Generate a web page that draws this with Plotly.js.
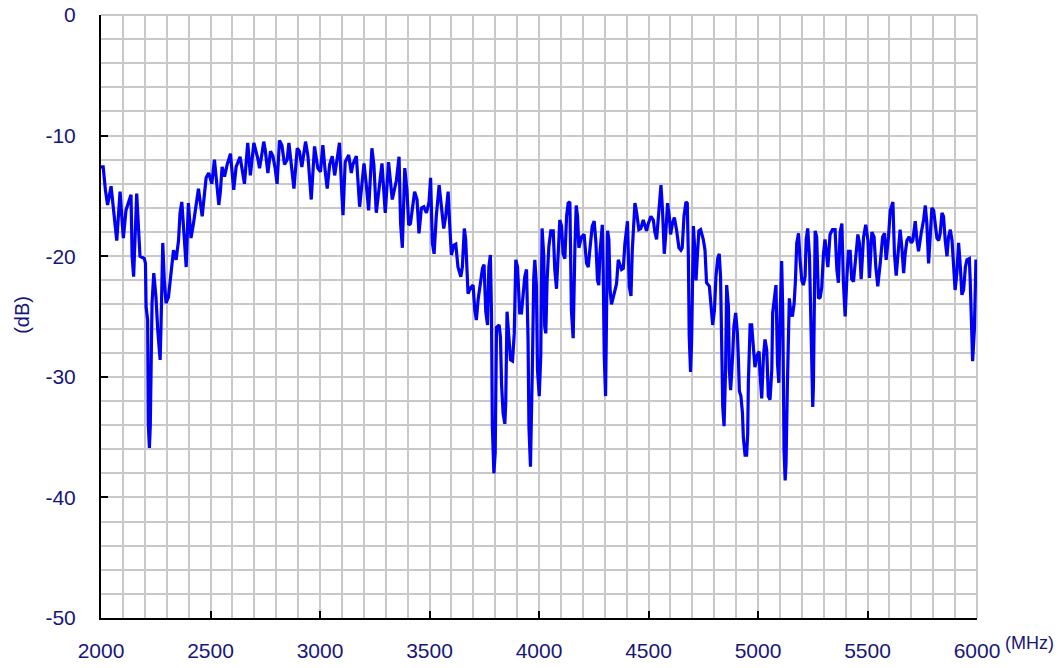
<!DOCTYPE html>
<html>
<head>
<meta charset="utf-8">
<script src="https://cdn.plot.ly/plotly-3.0.1.min.js"></script>
<style>html,body{margin:0;padding:0;background:#fff;}#chart{width:1058px;height:668px;}</style>
</head>
<body>
<div id="chart"></div>
<script>
// Frequency (MHz) and level (dB), band by band
const freqA = [2000,2010,2020,2030,2046,2061,2072,2087,2102,2114,2126,2137,2142,2149,2163,2172,2178,2198,2203,2206,2213,2216,2221,2225,2228,2233,2241,2251,2259,2270,2274,2279,2282,2289,2297,2308,2320,2331,2343,2354,2361,2369,2381,2389,2399,2411,2422,2434,2445,2462,2472,2480,2492,2506,2518,2529,2538,2545,2553,2564,2576,2591,2606,2617,2635,2655];
const dbA   = [-12.6,-12.6,-14.5,-15.75,-14.2,-17.0,-18.7,-14.65,-18.5,-16.2,-15.5,-14.9,-20.0,-21.7,-14.8,-18.4,-20.0,-20.2,-20.6,-24.2,-25.3,-33.9,-35.9,-34.1,-29.2,-23.9,-21.4,-23.4,-26.1,-28.6,-25.8,-22.0,-18.9,-22.0,-23.9,-23.4,-21.1,-19.5,-20.3,-18.7,-16.4,-15.5,-18.7,-20.9,-15.6,-18.5,-17.3,-15.6,-14.4,-16.7,-14.8,-13.5,-13.1,-14.0,-12.0,-14.0,-15.75,-14.65,-12.6,-13.4,-12.4,-11.5,-14.5,-12.6,-11.75,-14.0];

const freqB = [2670,2682,2698,2716,2724,2734,2743,2750,2762,2774,2785,2795,2804,2815,2826,2838,2850,2858,2868,2881,2896,2906,2917,2934,2945,2960,2975,2990,3002,3013,3024,3033,3044,3056,3067,3079,3089,3100,3105,3115,3131,3143,3150,3166,3181,3188,3201,3211,3222,3237,3246,3257,3272,3283,3298,3313];
const dbB   = [-10.6,-13.3,-10.6,-11.9,-12.7,-11.6,-10.5,-11.2,-13.1,-11.3,-11.7,-12.7,-14.0,-10.4,-10.8,-12.4,-12.0,-10.6,-12.4,-14.4,-11.05,-11.3,-12.6,-10.5,-11.7,-15.3,-10.9,-12.7,-13.0,-10.8,-13.0,-14.4,-12.4,-11.7,-13.3,-11.6,-10.6,-14.9,-16.6,-12.2,-11.6,-13.1,-12.4,-11.7,-15.9,-14.65,-12.3,-14.0,-16.2,-11.05,-12.4,-16.4,-13.8,-12.3,-16.4,-12.2];

const freqC = [3330,3341,3349,3361,3368,3376,3387,3397,3405,3413,3422,3432,3443,3452,3463,3474,3486,3498,3505,3513,3521,3531,3544,3554,3565,3574,3585,3592,3600,3611,3620,3630,3643,3650,3659,3665,3676,3688,3699,3707,3714,3722,3733,3742,3749,3757,3765,3771,3778,3783,3787,3794,3800,3806,3818,3824,3829,3836,3844,3848,3854,3864,3870,3879,3887,3894,3902,3912,3920,3928,3935,3943,3950,3954,3961,3970,3976,3981,3988,3993,4001];
const dbC   = [-15.3,-14.5,-13.7,-11.75,-17.3,-19.3,-12.7,-14.5,-17.4,-17.3,-15.9,-14.65,-15.3,-18.1,-16.0,-15.9,-16.4,-15.5,-13.5,-18.9,-19.8,-16.7,-14.1,-15.9,-17.7,-16.7,-14.65,-17.3,-19.9,-19.1,-19.0,-20.9,-21.7,-20.9,-17.7,-18.6,-23.1,-22.6,-22.4,-24.5,-25.3,-23.6,-22.3,-21.0,-20.7,-24.6,-25.7,-20.9,-19.9,-24.7,-34.1,-38.0,-36.3,-25.9,-25.7,-26.7,-30.6,-33.0,-33.9,-32.2,-24.6,-26.7,-28.6,-28.7,-26.4,-20.3,-20.9,-24.7,-24.7,-23.1,-21.7,-21.1,-26.9,-34.1,-37.45,-28.9,-21.8,-20.3,-22.4,-29.4,-31.6];

const freqD = [4008,4014,4022,4026,4031,4037,4045,4054,4065,4072,4080,4087,4095,4103,4110,4118,4126,4133,4141,4148,4156,4164,4170,4176,4182,4194,4206,4217,4225,4232,4243,4252,4260,4267,4273,4278,4289,4293,4298,4304,4310,4313,4319,4325,4331,4339,4347,4354,4362,4369,4377,4385,4392,4404,4412,4420,4426,4438,4446,4456,4465,4476,4484,4491,4499,4511,4522,4529,4537,4548,4557,4564,4572,4578,4587,4595,4601,4609,4618,4628,4639];
const dbD   = [-28.3,-17.7,-20.0,-25.8,-26.4,-22.0,-19.2,-17.9,-17.9,-21.1,-22.7,-19.8,-17.0,-17.5,-19.8,-20.2,-16.7,-15.6,-15.5,-24.5,-26.8,-19.2,-15.8,-16.7,-19.3,-18.4,-18.2,-20.6,-20.9,-19.5,-17.5,-17.1,-18.9,-22.0,-22.4,-19.8,-17.4,-21.1,-28.3,-31.6,-24.7,-17.9,-18.6,-22.9,-24.0,-23.3,-22.9,-22.3,-20.3,-20.7,-21.1,-21.0,-19.0,-17.1,-22.5,-23.3,-19.5,-15.6,-16.4,-17.8,-17.7,-17.0,-17.4,-17.9,-17.3,-16.7,-17.0,-18.0,-18.6,-16.2,-14.1,-16.2,-19.8,-18.4,-15.6,-16.7,-18.2,-17.3,-16.8,-17.8,-19.3];

const freqE = [4648,4654,4662,4671,4677,4682,4686,4692,4697,4701,4705,4712,4717,4723,4730,4738,4750,4758,4765,4778,4784,4793,4801,4808,4816,4823,4829,4834,4839,4845,4852,4857,4865,4869,4875,4884,4890,4898,4906,4910,4915,4922,4929,4933,4941,4948,4953,4956,4964,4971,4979,4986,4997,5005,5009,5017,5025,5032,5040,5047,5055,5063,5067,5075,5082,5089,5095,5101,5108,5113,5119,5124,5128,5134,5139,5143,5150,5157,5165,5171,5177,5185,5192,5200,5207,5215,5220,5227,5235,5241,5246,5250,5253,5258,5261,5268,5276,5284,5291,5299,5306];
const dbE   = [-19.5,-19.3,-16.7,-15.5,-15.6,-20.0,-26.7,-29.6,-27.0,-20.9,-17.5,-19.7,-22.0,-20.0,-17.9,-17.8,-18.6,-19.5,-22.2,-22.5,-23.9,-25.7,-24.5,-21.7,-20.2,-19.8,-21.7,-27.5,-32.5,-34.1,-29.4,-22.4,-24.2,-29.4,-31.1,-28.3,-25.8,-24.7,-26.4,-28.3,-31.2,-31.6,-33.0,-35.0,-36.5,-36.5,-34.7,-30.5,-25.7,-25.7,-27.2,-29.2,-28.2,-27.9,-29.7,-31.8,-28.3,-26.9,-27.8,-31.6,-31.9,-29.4,-24.7,-23.1,-22.4,-28.9,-30.5,-25.0,-20.4,-24.5,-36.1,-38.6,-37.2,-30.8,-25.8,-23.5,-24.7,-25.0,-23.9,-22.0,-18.9,-18.1,-20.3,-22.0,-22.4,-21.7,-18.6,-17.7,-20.0,-25.8,-31.6,-32.5,-30.8,-21.7,-17.9,-18.4,-23.5,-23.4,-22.6,-19.8,-18.6];

const freqF = [5319,5329,5340,5352,5360,5367,5375,5383,5390,5398,5406,5413,5421,5428,5436,5444,5456,5463,5471,5482,5492,5502,5509,5520,5530,5538,5547,5558,5569,5578,5585,5596,5604,5616,5623,5631,5642,5649,5657,5665,5672,5680,5690,5700,5707,5718,5726,5733,5745,5756,5764,5771,5779,5787,5794,5802,5809,5817,5825,5832,5840,5847,5855,5863,5870,5878,5886,5893,5900,5908,5916,5924,5931,5939,5947,5954,5965,5969,5974,5980,5988,5995,6000];
const dbF   = [-20.9,-18.2,-17.8,-17.8,-21.1,-22.2,-18.0,-17.3,-22.2,-25.0,-21.7,-19.6,-19.6,-21.9,-22.1,-20.3,-18.2,-18.9,-21.9,-18.4,-17.4,-18.7,-21.8,-18.0,-18.4,-20.9,-22.5,-20.6,-18.4,-18.1,-20.3,-18.4,-16.2,-15.5,-19.8,-21.6,-18.9,-17.8,-19.3,-21.4,-19.8,-18.7,-18.4,-18.9,-18.7,-17.1,-18.7,-19.6,-18.1,-17.0,-15.8,-17.3,-20.6,-18.4,-16.0,-16.2,-17.5,-18.5,-18.7,-18.1,-16.4,-16.7,-18.7,-20.0,-18.4,-17.8,-18.7,-21.4,-22.8,-21.4,-18.9,-20.9,-23.2,-22.8,-20.9,-20.3,-20.2,-22.0,-26.1,-28.7,-26.1,-20.4,-20.4];

const xTicks = [2000,2500,3000,3500,4000,4500,5000,5500,6000];
const yTicks = [0,-10,-20,-30,-40,-50];
const xUnit = '(MHz)';
const yUnit = '(dB)';

const freq = [].concat(freqA, freqB, freqC, freqD, freqE, freqF);
const level = [].concat(dbA, dbB, dbC, dbD, dbE, dbF);

const navy = '#16167a';
const gridC = '#c8c8c8';
const font = 'Liberation Sans, Arial, sans-serif';

const trace = {
  x: freq, y: level, type: 'scatter', mode: 'lines',
  line: {color: '#0000f5', width: 3.2},
  hoverinfo: 'x+y'
};

const axisCommon = {
  showgrid: true, gridcolor: gridC, gridwidth: 2,
  showline: true, linecolor: '#000', linewidth: 2,
  ticks: 'inside', ticklen: 7, tickwidth: 2, tickcolor: '#000',
  zeroline: false,
  tickfont: {family: font, size: 21, color: navy}
};

const layout = {
  width: 1058, height: 668,
  margin: {l: 101, r: 81, t: 15, b: 50},
  paper_bgcolor: '#fff', plot_bgcolor: '#fff',
  showlegend: false,
  xaxis: Object.assign({}, axisCommon, {
    range: [2000, 6000], tickmode: 'array', tickvals: xTicks, ticktext: xTicks.map(String),
    minor: {dtick: 100, tick0: 2000, showgrid: true, gridcolor: gridC, gridwidth: 2, ticks: ''},
    ticklabelstandoff: 13
  }),
  yaxis: Object.assign({}, axisCommon, {
    range: [-50, 0], tickmode: 'array', tickvals: yTicks, ticktext: yTicks.map(String),
    minor: {dtick: 2, tick0: 0, showgrid: true, gridcolor: gridC, gridwidth: 2, ticks: ''},
    ticklabelstandoff: 19
  }),
  shapes: [
    {type: 'line', xref: 'paper', yref: 'paper', x0: 0, x1: 1, y0: 1, y1: 1, line: {color: gridC, width: 2}, layer: 'below'},
    {type: 'line', xref: 'paper', yref: 'paper', x0: 1, x1: 1, y0: 0, y1: 1, line: {color: gridC, width: 2}, layer: 'below'}
  ],
  annotations: [
    {text: xUnit, xref: 'paper', yref: 'paper', x: 1.06, y: -0.041, xanchor: 'center', yanchor: 'middle', showarrow: false, font: {family: font, size: 18, color: navy}},
    {text: yUnit, xref: 'paper', yref: 'paper', x: -0.09, y: 0.503, xanchor: 'center', yanchor: 'middle', textangle: -90, showarrow: false, font: {family: font, size: 20, color: navy}}
  ]
};

Plotly.newPlot('chart', [trace], layout, {displayModeBar: false, staticPlot: true});
</script>
</body>
</html>
